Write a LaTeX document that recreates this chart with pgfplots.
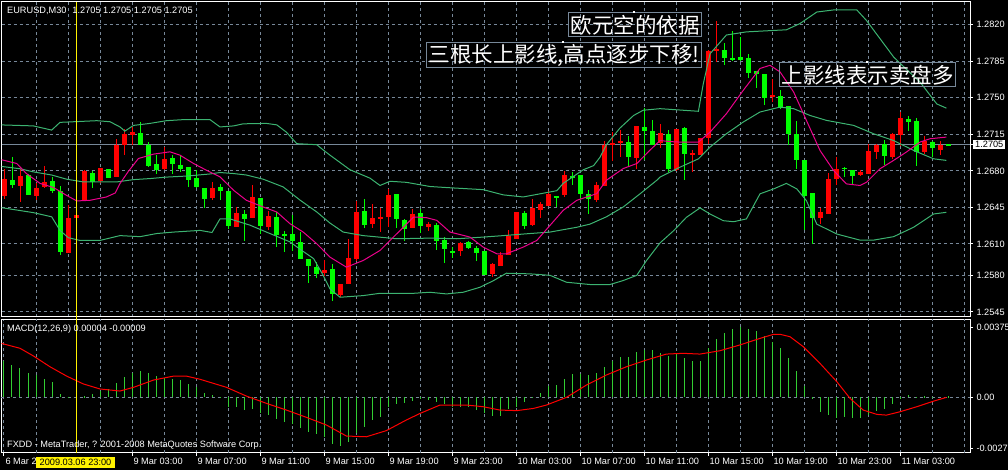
\documentclass[border=0pt]{standalone}
\usepackage{fontspec}
\setmainfont{Liberation Sans}
\newfontfamily\cjk{Noto Sans CJK SC}
\usepackage{pgfplots}
\usepackage{pgfplotstable}
\pgfplotsset{compat=1.18}

\definecolor{mt}{HTML}{778899}
\definecolor{band}{HTML}{3CB371}
\definecolor{bull}{HTML}{FF0000}
\definecolor{bear}{HTML}{00FF00}
\definecolor{hist}{HTML}{32CD32}
\newcommand\ticklab{\fontsize{9.2}{11}\selectfont}

% EURUSD M30 candles, red = close above open, green = close below open
\pgfplotstableread{
i o h l c
0 1.2656 1.2682 1.2653 1.2672
2 1.2666 1.2682 1.2650 1.2675
4 1.2656 1.2668 1.2652 1.2664
5 1.2665 1.2685 1.2664 1.2669
8 1.2601 1.2647 1.2601 1.2635
9 1.2635 1.2638 1.2635 1.2638
10 1.2652 1.2681 1.2652 1.2680
12 1.2670 1.2683 1.2668 1.2683
14 1.2674 1.2710 1.2674 1.2705
15 1.2705 1.2720 1.2695 1.2715
16 1.2714 1.2722 1.2705 1.2717
20 1.2682 1.2703 1.2681 1.2691
26 1.2654 1.2669 1.2652 1.2664
29 1.2626 1.2645 1.2626 1.2640
31 1.2635 1.2666 1.2635 1.2655
33 1.2626 1.2642 1.2623 1.2637
40 1.2582 1.2595 1.2579 1.2585
42 1.2561 1.2572 1.2559 1.2572
43 1.2572 1.2615 1.2572 1.2597
44 1.2596 1.2651 1.2594 1.2641
46 1.2629 1.2648 1.2625 1.2635
47 1.2634 1.2645 1.2622 1.2636
48 1.2636 1.2663 1.2626 1.2657
51 1.2625 1.2643 1.2625 1.2639
53 1.2626 1.2631 1.2622 1.2629
57 1.2603 1.2612 1.2599 1.2611
61 1.2581 1.2592 1.2578 1.2591
62 1.2589 1.2602 1.2589 1.2599
63 1.2599 1.2623 1.2599 1.2618
64 1.2615 1.2641 1.2615 1.2641
66 1.2628 1.2653 1.2627 1.2645
67 1.2643 1.2650 1.2635 1.2648
68 1.2646 1.2661 1.2646 1.2658
70 1.2657 1.2680 1.2655 1.2676
74 1.2652 1.2669 1.2650 1.2666
75 1.2666 1.2709 1.2666 1.2705
76 1.2705 1.2717 1.2689 1.2707
77 1.2707 1.2719 1.2693 1.2709
79 1.2692 1.2723 1.2682 1.2723
82 1.2707 1.2725 1.2702 1.2716
84 1.2681 1.2720 1.2680 1.2720
86 1.2695 1.2700 1.2679 1.2697
87 1.2695 1.2712 1.2695 1.2712
88 1.2712 1.2796 1.2706 1.2795
89 1.2795 1.2823 1.2784 1.2797
96 1.2751 1.2768 1.2746 1.2753
102 1.2635 1.2645 1.2629 1.2641
103 1.2639 1.2678 1.2639 1.2672
104 1.2672 1.2693 1.2667 1.2682
107 1.2676 1.2681 1.2675 1.2679
108 1.2677 1.2706 1.2677 1.2699
109 1.2698 1.2706 1.2691 1.2705
111 1.2693 1.2716 1.2691 1.2715
112 1.2714 1.2736 1.2704 1.2731
115 1.2698 1.2713 1.2696 1.2709
117 1.2700 1.2709 1.2695 1.2705
}\upcandles

\pgfplotstableread{
i o h l c
1 1.2671 1.2693 1.2664 1.2667
3 1.2676 1.2677 1.2657 1.2657
6 1.2670 1.2674 1.2659 1.2661
7 1.2661 1.2666 1.2600 1.2602
11 1.2678 1.2680 1.2664 1.2669
13 1.2682 1.2682 1.2673 1.2673
17 1.2716 1.2727 1.2705 1.2705
18 1.2705 1.2708 1.2684 1.2685
19 1.2687 1.2695 1.2677 1.2681
21 1.2692 1.2695 1.2677 1.2687
22 1.2686 1.2695 1.2679 1.2682
23 1.2684 1.2684 1.2665 1.2671
24 1.2673 1.2681 1.2664 1.2665
25 1.2664 1.2664 1.2645 1.2653
27 1.2665 1.2667 1.2652 1.2661
28 1.2661 1.2661 1.2624 1.2627
30 1.2639 1.2643 1.2613 1.2634
32 1.2654 1.2654 1.2620 1.2627
34 1.2636 1.2641 1.2607 1.2619
35 1.2619 1.2622 1.2602 1.2619
36 1.2620 1.2638 1.2603 1.2613
37 1.2612 1.2621 1.2596 1.2596
38 1.2596 1.2596 1.2573 1.2589
39 1.2588 1.2593 1.2578 1.2581
41 1.2586 1.2591 1.2555 1.2562
45 1.2642 1.2653 1.2625 1.2628
49 1.2658 1.2658 1.2625 1.2634
50 1.2633 1.2634 1.2613 1.2624
52 1.2640 1.2644 1.2621 1.2627
54 1.2628 1.2630 1.2604 1.2613
55 1.2614 1.2617 1.2592 1.2605
56 1.2603 1.2607 1.2597 1.2602
58 1.2612 1.2613 1.2605 1.2606
59 1.2606 1.2608 1.2594 1.2601
60 1.2603 1.2603 1.2580 1.2580
65 1.2640 1.2642 1.2624 1.2627
69 1.2656 1.2656 1.2645 1.2654
71 1.2675 1.2679 1.2667 1.2674
72 1.2676 1.2676 1.2653 1.2658
73 1.2658 1.2662 1.2639 1.2653
78 1.2708 1.2713 1.2685 1.2693
80 1.2722 1.2740 1.2690 1.2718
81 1.2718 1.2729 1.2705 1.2705
83 1.2715 1.2719 1.2679 1.2682
85 1.2721 1.2722 1.2671 1.2696
90 1.2796 1.2802 1.2781 1.2788
91 1.2788 1.2814 1.2785 1.2787
92 1.2789 1.2808 1.2785 1.2786
93 1.2788 1.2792 1.2769 1.2774
94 1.2776 1.2776 1.2759 1.2773
95 1.2773 1.2773 1.2743 1.2750
97 1.2752 1.2757 1.2739 1.2740
98 1.2742 1.2742 1.2705 1.2715
99 1.2715 1.2728 1.2682 1.2690
100 1.2690 1.2690 1.2623 1.2656
101 1.2659 1.2659 1.2610 1.2635
105 1.2683 1.2684 1.2674 1.2682
106 1.2681 1.2681 1.2667 1.2675
110 1.2706 1.2710 1.2686 1.2694
113 1.2730 1.2733 1.2718 1.2727
114 1.2728 1.2731 1.2685 1.2698
116 1.2708 1.2709 1.2693 1.2702
118 1.2705 1.2706 1.2705 1.2705
}\downcandles

% Bollinger bands and moving average
\pgfplotstableread{
i p
-0.5 1.2724
3.67 1.2723
5.96 1.2719
7 1.27264
11.6 1.2728
13.25 1.2727
14.5 1.2722
15.1 1.2718
16.2 1.27235
18.25 1.27254
20.3 1.2728
22.4 1.2729
25.75 1.2729
27 1.2722
28.7 1.2723
29.9 1.2725
32.8 1.27254
34.1 1.2724
35.3 1.2717
36.6 1.2706
39.1 1.2705
39.9 1.2700
40.75 1.2695
43.25 1.2681
45.75 1.2673
47 1.2666
48.25 1.2670
50.3 1.2669
53.25 1.2665
55.3 1.2664
59.9 1.2662
62.4 1.2657
64.9 1.2655
69.1 1.2661
69.9 1.2668
72.4 1.2681
73.7 1.2685
74.5 1.2693
75.3 1.2705
77 1.2721
78.7 1.2733
79.9 1.2738
82 1.27395
86.8 1.2737
87.4 1.2763
88.25 1.2792
90.3 1.2810
92.8 1.2813
97.8 1.2815
99.5 1.2821
101.6 1.2832
103.7 1.2834
106.6 1.2834
107.8 1.2824
111.2 1.2789
112 1.2783
114.5 1.2765
116.6 1.2744
117.8 1.2740
}\upperband

\pgfplotstableread{
i p
-0.5 1.26844
2 1.2682
3.67 1.2679
5.96 1.2676
7.83 1.2672
9.9 1.26694
14.1 1.26694
16.2 1.26716
18.25 1.26726
20.3 1.2674
22.8 1.2675
25.75 1.2677
27 1.26784
28.7 1.26774
30.3 1.2676
32.4 1.2672
34.9 1.26646
37 1.2652
39.1 1.26406
40.75 1.2630
42.4 1.26214
44.9 1.2618
49.1 1.2615
53.25 1.26156
56.6 1.2615
59.9 1.26166
62.4 1.2618
65.75 1.2620
68.25 1.26214
71.6 1.2626
73.25 1.2629
75.3 1.2636
77.4 1.26454
79.5 1.2658
81.6 1.2671
82 1.2674
84.5 1.26835
86.8 1.26915
88.25 1.27027
90.3 1.27155
92.4 1.27267
94.5 1.27363
97 1.2741
98.7 1.27395
100.75 1.2733
102.8 1.27283
106.2 1.27235
108.7 1.27155
111.2 1.2709
113.7 1.26995
116.2 1.26915
117.8 1.2690
}\middleband

\pgfplotstableread{
i p
-0.5 1.2645
2 1.2642
3.67 1.2640
5.96 1.2636
7 1.2623
8.04 1.2616
9.5 1.26134
12 1.26134
14.5 1.2618
17 1.2617
19.1 1.2620
21.2 1.26214
24.5 1.2623
26 1.2621
27 1.2634
28.25 1.2634
30.75 1.2628
32.8 1.26214
35.75 1.2612
37 1.2605
38.7 1.2596
39.9 1.2580
40.75 1.2567
42 1.2559
44.9 1.25606
47 1.25628
51.2 1.25628
53.25 1.25638
55.3 1.25622
57.4 1.25638
59.5 1.25686
61.2 1.2575
62.8 1.2582
65.75 1.25814
68.25 1.2580
70.3 1.25734
73.25 1.25712
75.75 1.25712
77.4 1.2575
79.1 1.2580
80.3 1.2594
82 1.2611
83.7 1.26227
85.3 1.26355
87 1.26445
88.25 1.26387
89.9 1.26323
91.2 1.26313
92.8 1.2634
94.5 1.2658
96.2 1.26627
97.8 1.2668
99.1 1.26627
100.3 1.26515
101.6 1.2629
104.1 1.26195
107 1.26137
108.7 1.26137
111.2 1.2617
113.7 1.2626
116.2 1.26387
117.8 1.26403
}\lowerband

\pgfplotstableread{
i p
-0.5 1.2691
1.6 1.2687
2.8 1.26774
4.5 1.2668
6.2 1.2664
7.8 1.26566
9.1 1.26512
10.75 1.26518
12.8 1.2655
13.9 1.26588
14.5 1.26678
15.5 1.2679
16.8 1.26918
18.7 1.2696
20.75 1.26982
22 1.2695
23.7 1.2687
25.3 1.26806
27 1.26742
28.7 1.26614
30.3 1.26518
32.4 1.26454
34.1 1.26406
35.75 1.26294
37.4 1.26214
39.1 1.26102
40.75 1.25974
42.8 1.25878
44.9 1.25942
47 1.26038
49.1 1.26198
51.2 1.26358
52.8 1.26352
54.1 1.26326
55.75 1.26214
58.25 1.26166
59.9 1.2607
61.6 1.26006
62.8 1.26006
64.9 1.2607
66.6 1.26134
68.25 1.26278
69.9 1.26422
71.6 1.26518
74.1 1.26582
75.3 1.2671
77.4 1.26822
79.1 1.2687
80.75 1.26998
82 1.2709
83.25 1.2708
84.5 1.27075
86.8 1.27075
88.25 1.2717
90.3 1.27347
92.4 1.2757
94.5 1.2778
95.75 1.2781
97 1.27747
98.7 1.27555
100.3 1.27283
102 1.26995
103.7 1.26803
105.3 1.26675
107 1.2666
107.8 1.2669
109.5 1.2682
111.2 1.2690
112.8 1.2698
114.5 1.27075
115.75 1.27107
117.8 1.27123
}\maline

% MACD(12,26,9) histogram and signal line
\pgfplotstableread{
i v
0 0.00194
1 0.00172
2 0.00154
3 0.00128
4 0.00119
5 0.00097
6 0.00081
7 0.00017
8 0.00003
9 0.00004
10 0.00006
11 0.00015
12 0.00035
13 0.00044
14 0.00074
15 0.00106
16 0.00131
17 0.00140
18 0.00128
19 0.00113
20 0.00104
21 0.00099
22 0.00092
23 0.00071
24 0.00053
25 0.00024
26 0.00012
27 0.00001
28 -0.00051
29 -0.00051
30 -0.00069
31 -0.00065
32 -0.00087
33 -0.00096
34 -0.00117
35 -0.00133
36 -0.00146
37 -0.00167
38 -0.00185
39 -0.00197
40 -0.00212
41 -0.00253
42 -0.00260
43 -0.00242
44 -0.00194
45 -0.00158
46 -0.00122
47 -0.00104
48 -0.00051
49 -0.00038
50 -0.00033
51 -0.00019
52 -0.00012
53 -0.00015
54 -0.00024
55 -0.00037
56 -0.00051
57 -0.00054
58 -0.00054
59 -0.00069
60 -0.00087
61 -0.00099
62 -0.00099
63 -0.00065
64 -0.00051
65 -0.00024
66 0.00001
67 0.00024
68 0.00060
69 0.00065
70 0.00097
71 0.00124
72 0.00124
73 0.00119
74 0.00131
75 0.00163
76 0.00194
77 0.00213
78 0.00213
79 0.00242
80 0.00253
81 0.00253
82 0.00235
83 0.00222
84 0.00235
85 0.00208
86 0.00194
87 0.00194
88 0.00262
89 0.00312
90 0.00346
91 0.00363
92 0.00378
93 0.00365
94 0.00355
95 0.00328
96 0.00297
97 0.00262
98 0.00208
99 0.00142
100 0.00060
101 -0.00012
102 -0.00078
103 -0.00096
104 -0.00110
105 -0.00104
106 -0.00110
107 -0.00110
108 -0.00096
109 -0.00074
110 -0.00065
111 -0.00038
112 -0.00012
113 0.00012
114 0.00001
115 0.00006
116 0.00001
117 0.00000
118 0.00004
}\macdhist

\pgfplotstableread{
i v
-0.3 0.00288
2 0.00262
3.67 0.00221
5.75 0.00163
7.83 0.00113
9.92 0.00071
12 0.00044
14.5 0.00033
16.2 0.00053
18.7 0.00092
21.2 0.00113
22.8 0.00113
24.5 0.00096
27.8 0.00053
30.3 0.00006
32.8 -0.00033
35.3 -0.00069
37.8 -0.00108
40.3 -0.00149
42.8 -0.00208
45.3 -0.00212
47.8 -0.00179
50.3 -0.00122
52 -0.00087
54.5 -0.00042
57.8 -0.00042
59.9 -0.00051
62 -0.00069
64.1 -0.00072
66.2 -0.00060
67.8 -0.00042
70.3 -0.00001
72.8 0.00065
75.3 0.00119
77.8 0.00163
80.3 0.00199
82.8 0.00231
84.9 0.00235
87 0.00231
89.5 0.00249
92 0.00280
94.5 0.00315
96.2 0.00337
97 0.00337
98.25 0.00324
99.9 0.00271
102 0.00181
104.1 0.00083
105.75 -0.00006
107.4 -0.00069
109.1 -0.00092
110.3 -0.00096
112 -0.00078
114.1 -0.00051
116.2 -0.00021
117.8 -0.00001
}\signal

\begin{document}
\begin{tikzpicture}[x=1pt,y=1pt]
\fill[black] (0,0) rectangle (1008,470);

% price panel
\begin{axis}[
  at={(1.5pt,468pt)}, anchor=north west,
  scale only axis, width=968.5pt, height=314.7pt,
  xmin=-0.3125, xmax=120.75, ymin=1.25404, ymax=1.28416,
  axis line style={white, line width=1pt},
  tick align=outside, major tick length=3pt,
  xtick={4,8,...,120}, xticklabels={}, xtick style={draw=none},
  ytick={1.2545,1.2580,1.2610,1.2645,1.2680,1.2715,1.2750,1.2785,1.2820},
  yticklabels={1.2545,1.2580,1.2610,1.2645,1.2680,1.2715,1.2750,1.2785,1.2820},
  ytick pos=right, yticklabel pos=right,
  ytick style={white, line width=1pt},
  yticklabel style={text=white, font=\ticklab},
  scaled y ticks=false,
  grid=major,
  major grid style={mt, line width=1pt, dash pattern=on 3pt off 3pt},
  extra y ticks={1.2705}, extra y tick labels={1.2705},
  extra y tick style={major grid style={mt, solid, line width=1pt},
    yticklabel style={fill=white, text=black, inner xsep=2pt, inner ysep=1.5pt}},
]
\addplot[draw=none, error bars/.cd, y dir=both, y explicit, error mark=none,
  error bar style={draw=bull, line width=1pt}]
  table[x=i, y expr={(\thisrow{h}+\thisrow{l})/2}, y error expr={(\thisrow{h}-\thisrow{l})/2}] {\upcandles};
\addplot[draw=none, error bars/.cd, y dir=both, y explicit, error mark=none,
  error bar style={draw=bull, line width=5pt}]
  table[x=i, y expr={(\thisrow{o}+\thisrow{c})/2}, y error expr={max(abs(\thisrow{c}-\thisrow{o})/2,0.00005)}] {\upcandles};
\addplot[draw=none, error bars/.cd, y dir=both, y explicit, error mark=none,
  error bar style={draw=bear, line width=1pt}]
  table[x=i, y expr={(\thisrow{h}+\thisrow{l})/2}, y error expr={(\thisrow{h}-\thisrow{l})/2}] {\downcandles};
\addplot[draw=none, error bars/.cd, y dir=both, y explicit, error mark=none,
  error bar style={draw=bear, line width=5pt}]
  table[x=i, y expr={(\thisrow{o}+\thisrow{c})/2}, y error expr={max(abs(\thisrow{c}-\thisrow{o})/2,0.00005)}] {\downcandles};
\addplot[band, line width=1pt] table[x=i, y=p] {\upperband};
\addplot[band, line width=1pt] table[x=i, y=p] {\middleband};
\addplot[band, line width=1pt] table[x=i, y=p] {\lowerband};
\addplot[magenta, line width=1pt] table[x=i, y=p] {\maline};
\end{axis}

% MACD panel
\begin{axis}[
  at={(1.5pt,150.7pt)}, anchor=north west,
  scale only axis, width=968.5pt, height=133.4pt,
  xmin=-0.3125, xmax=120.75, ymin=-0.002973, ymax=0.004173,
  axis line style={white, line width=1pt},
  tick align=outside, major tick length=3pt,
  xtick={0,16,24,32,40,48,56,64,72,80,88,96,104,112},
  xticklabels={6 Mar 2009, 9 Mar 03:00, 9 Mar 07:00, 9 Mar 11:00, 9 Mar 15:00,
    9 Mar 19:00, 9 Mar 23:00, 10 Mar 03:00, 10 Mar 07:00, 10 Mar 11:00,
    10 Mar 15:00, 10 Mar 19:00, 10 Mar 23:00, 11 Mar 03:00},
  xtick pos=bottom,
  xtick style={white, line width=1pt},
  xticklabel style={text=white, font=\ticklab, anchor=north west, xshift=-2pt, yshift=1pt},
  ytick={-0.00276,0.00375}, yticklabels={-0.00276,0.00375},
  ytick pos=right, yticklabel pos=right,
  ytick style={white, line width=1pt},
  yticklabel style={text=white, font=\ticklab},
  scaled y ticks=false,
  xmajorgrids=true, ymajorgrids=false,
  major grid style={mt, line width=1pt, dash pattern=on 3pt off 3pt},
  extra x ticks={4,12,20,28,36,44,52,60,68,76,84,92,100,108,116,120},
  extra x tick labels={},
  extra x tick style={major tick length=0pt},
  extra y ticks={0}, extra y tick labels={0.00},
  extra y tick style={ymajorgrids=true},
]
\addplot[draw=none, error bars/.cd, y dir=both, y explicit, error mark=none,
  error bar style={draw=hist, line width=1pt}]
  table[x=i, y expr={\thisrow{v}/2}, y error expr={abs(\thisrow{v})/2}] {\macdhist};
\addplot[bull, line width=1pt] table[x=i, y=v] {\signal};
\end{axis}

% crosshair and texts
\draw[yellow, line width=1pt] (76,17.3) -- (76,468);
\node[anchor=west, text=white, font=\ticklab, inner sep=0pt] at (7,459)
  {EURUSD,M30\hspace{6pt}1.2705 1.2705 1.2705 1.2705};
\node[anchor=west, text=white, font=\ticklab, inner sep=0pt] at (7,141)
  {MACD(12,26,9) 0.00004 -0.00009};
\node[anchor=west, text=white, font=\ticklab, inner sep=0pt] at (7,25)
  {FXDD - MetaTrader, ? 2001-2008 MetaQuotes Software Corp.};
\node[fill=yellow, text=black, font=\ticklab, inner xsep=3.5pt, inner ysep=1pt,
  minimum height=11pt] at (75.5,7.8) {2009.03.06 23:00};

\node[draw=mt, line width=1pt, text=white, font=\cjk\fontsize{21.5}{23}\selectfont,
  inner xsep=2pt, inner ysep=0.5pt, minimum height=24pt, anchor=east] at (702,445) {欧元空的依据};
\node[draw=mt, line width=1pt, text=white, font=\cjk\fontsize{21.5}{23}\selectfont,
  inner xsep=2pt, inner ysep=0.5pt, minimum height=25pt, anchor=east] at (702,414.5) {三根长上影线,高点逐步下移!};
\node[draw=mt, line width=1pt, text=white, font=\cjk\fontsize{21.5}{23}\selectfont,
  inner xsep=2pt, inner ysep=0.5pt, minimum height=24pt, anchor=west] at (779,395) {上影线表示卖盘多};
\fill[white] (633.3,457.3) rectangle (635.3,459);
\fill[white] (561.7,427) rectangle (563.7,428.7);
\fill[white] (865.7,407.3) rectangle (867.7,409);

\pgfresetboundingbox
\path[use as bounding box] (0,0) rectangle (1008,470);
\end{tikzpicture}
\end{document}
